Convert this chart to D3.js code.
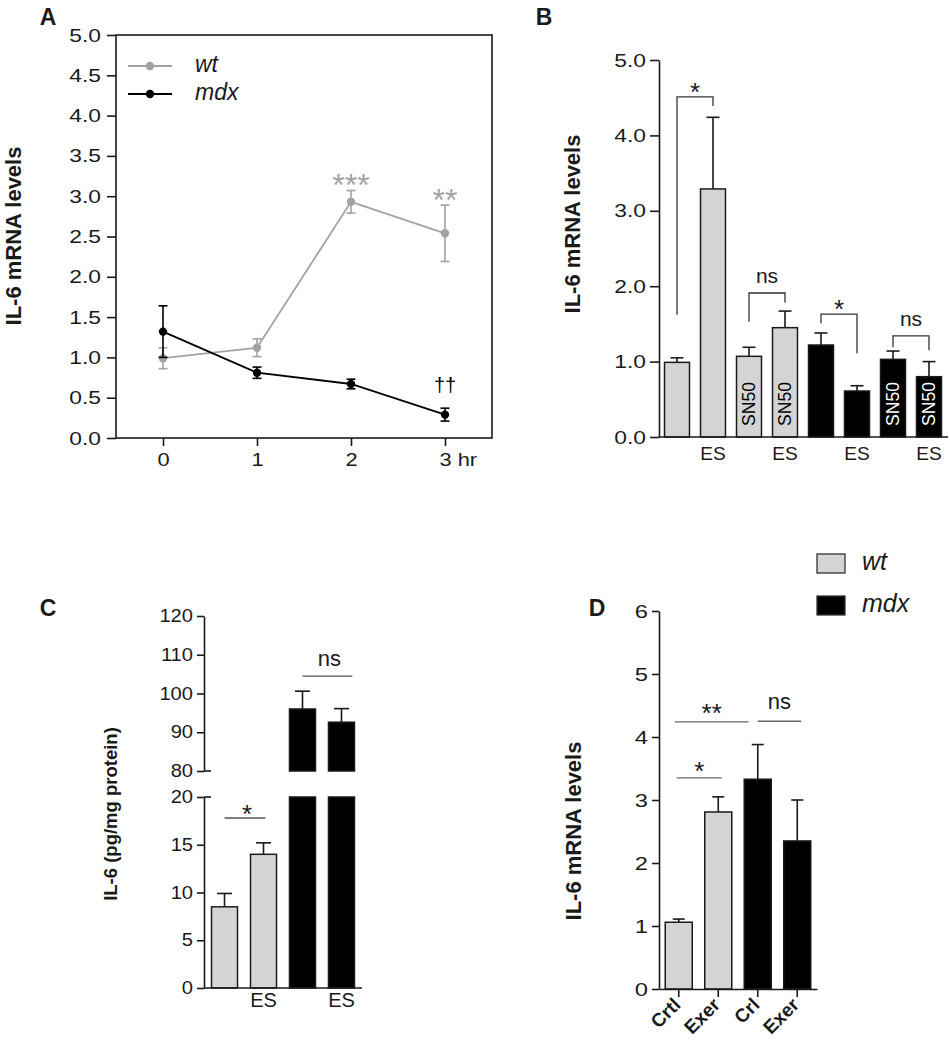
<!DOCTYPE html>
<html><head><meta charset="utf-8">
<script src="https://cdn.jsdelivr.net/npm/d3@7"></script>
<style>body{margin:0;background:#fff} svg{display:block}</style>
</head><body>
<svg id="fig" width="950" height="1050"></svg>
<script>
// ---------- DATA ----------
// Panel A
const aTimes = [0, 1, 2, 3];
const aXTickLabels = ["0", "1", "2", "3 hr"];
const aWt = [0.99, 1.12, 2.93, 2.54];
const aWtErr = [0.13, 0.11, 0.14, 0.35];
const aMdx = [1.32, 0.81, 0.67, 0.29];
const aMdxErr = [0.32, 0.07, 0.06, 0.08];
const aYTicks = [0, 0.5, 1, 1.5, 2, 2.5, 3, 3.5, 4, 4.5, 5];
const aWtMarks = ["", "", "***", "**"];
const aMdxMarks = ["", "", "", "††"];
const aSeriesNames = ["wt", "mdx"];

// Panel B
const bGroups = ["wt", "wt", "wt", "wt", "mdx", "mdx", "mdx", "mdx"];
const bVals = [0.99, 3.29, 1.07, 1.45, 1.22, 0.61, 1.03, 0.80];
const bErr = [0.06, 0.95, 0.12, 0.22, 0.16, 0.07, 0.11, 0.20];
const bXLabels = ["", "ES", "", "ES", "", "ES", "", "ES"];
const bInner = ["", "", "SN50", "SN50", "", "", "SN50", "SN50"];
const bYTicks = [0, 1, 2, 3, 4, 5];
const bBrFrom = [0, 2, 4, 6];
const bBrTo = [1, 3, 5, 7];
const bBrTop = [4.51, 1.91, 1.63, 1.34];
const bBrLeft = [1.62, 1.53, 1.51, 1.19];
const bBrRight = [4.39, 1.78, 1.11, 1.15];
const bBrLabel = ["*", "ns", "*", "ns"];

// Panel C
const cGroups = ["wt", "wt", "mdx", "mdx"];
const cVals = [8.5, 14.0, 96.0, 92.6];
const cErr = [1.4, 1.2, 4.6, 3.5];
const cXLabels = ["", "ES", "", "ES"];
const cLowTicks = [0, 5, 10, 15, 20];
const cHighTicks = [80, 90, 100, 110, 120];
const cSigFrom = [0, 2];
const cSigTo = [1.05, 3.28];
const cSigY = [17.8, 104.5];
const cSigLabel = ["*", "ns"];

// Panel D
const dGroups = ["wt", "wt", "mdx", "mdx"];
const dCats = ["Crtl", "Exer", "Crl", "Exer"];
const dVals = [1.06, 2.81, 3.33, 2.35];
const dErr = [0.05, 0.24, 0.55, 0.65];
const dYTicks = [0, 1, 2, 3, 4, 5, 6];
const dSigFrom = [-0.05, -0.1, 2.0];
const dSigTo = [1.09, 1.77, 3.1];
const dSigY = [3.35, 4.24, 4.25];
const dSigLabel = ["*", "**", "ns"];
const dLegend = ["wt", "mdx"];

// ---------- STYLE ----------
const FONT = '"Liberation Sans", Arial, Helvetica, sans-serif';
const GREY_LINE = "#a2a2a2";
const BAR_FILL = { wt: "#d4d4d4", mdx: "#000000" };
const INK = "#1a1a1a";
const svg = d3.select("#fig");

function stretch(sel, k) {
  sel.each(function () {
    const L = this.getComputedTextLength();
    d3.select(this).attr("textLength", L * k).attr("lengthAdjust", "spacingAndGlyphs");
  });
}
function styleAxis(g, fs, k) {
  g.selectAll("text").attr("font-size", fs).attr("font-family", FONT).attr("fill", INK);
  g.selectAll("line,path").attr("stroke", INK).attr("stroke-width", 1.6);
  if (k) stretch(g.selectAll("text"), k);
}
// place text by its visual center; kind decides glyph vertical center offset
function label(x, yc, s, size, opts = {}) {
  const k = opts.kind || "cap";
  const off = k === "star" ? 0.58 : k === "x" ? 0.26 : k === "dag" ? 0.30 : 0.36;
  const t = svg.append("text")
    .attr("x", x).attr("y", yc + off * size)
    .attr("text-anchor", opts.anchor || "middle")
    .attr("font-family", FONT).attr("font-size", size)
    .attr("font-weight", opts.bold ? "bold" : "normal")
    .attr("font-style", opts.italic ? "italic" : "normal")
    .attr("fill", opts.fill || INK)
    .text(s);
  if (opts.stretch) stretch(t, opts.stretch);
  return t;
}
function vTitle(x, yc, s, size) {
  svg.append("text")
    .attr("transform", `translate(${x},${yc}) rotate(-90)`)
    .attr("text-anchor", "middle").attr("dominant-baseline", "central")
    .attr("font-family", FONT).attr("font-size", size).attr("font-weight", "bold")
    .attr("fill", INK).text(s);
}
function starKind(s) { return s.indexOf("*") >= 0 ? "star" : "x"; }

// ---------- PANEL A ----------
{
  const x = d3.scaleLinear([-0.5, 3.5], [116, 492]);
  const y = d3.scaleLinear([0, 5], [438, 35]);
  const g = svg.append("g");
  g.append("rect").attr("x", x(-0.5)).attr("y", y(5))
    .attr("width", x(3.5) - x(-0.5)).attr("height", y(0) - y(5))
    .attr("fill", "none").attr("stroke", INK).attr("stroke-width", 1.6);
  const ya = g.append("g").attr("transform", `translate(${x(-0.5)},0)`)
    .call(d3.axisLeft(y).tickValues(aYTicks).tickFormat(d3.format(".1f")).tickSize(9).tickPadding(6).tickSizeOuter(0));
  ya.select(".domain").remove();
  styleAxis(ya, 19, 1.2);
  const xa = g.append("g").attr("transform", `translate(0,${y(0)})`)
    .call(d3.axisBottom(x).tickValues(aTimes).tickFormat((d, i) => aXTickLabels[i]).tickSize(8).tickPadding(7).tickSizeOuter(0));
  xa.select(".domain").remove();
  styleAxis(xa, 19, 1.15);
  xa.selectAll(".tick text").filter((d, i) => i === aTimes.length - 1)
    .attr("text-anchor", "start").attr("x", -6);

  const series = [
    { vals: aWt, err: aWtErr, color: GREY_LINE, marks: aWtMarks },
    { vals: aMdx, err: aMdxErr, color: "#000", marks: aMdxMarks }
  ];
  const line = d3.line().x((d, i) => x(aTimes[i])).y(d => y(d));
  series.forEach(s => {
    g.append("path").attr("d", line(s.vals)).attr("fill", "none")
      .attr("stroke", s.color).attr("stroke-width", 1.8);
    s.vals.forEach((v, i) => {
      const cx = x(aTimes[i]);
      g.append("line").attr("x1", cx).attr("x2", cx).attr("y1", y(v - s.err[i])).attr("y2", y(v + s.err[i]))
        .attr("stroke", s.color).attr("stroke-width", 1.6);
      [v - s.err[i], v + s.err[i]].forEach(e => g.append("line").attr("x1", cx - 4.5).attr("x2", cx + 4.5)
        .attr("y1", y(e)).attr("y2", y(e)).attr("stroke", s.color).attr("stroke-width", 1.6));
      g.append("circle").attr("cx", cx).attr("cy", y(v)).attr("r", 4.2).attr("fill", s.color);
    });
  });
  // significance marks
  aWtMarks.forEach((m, i) => {
    if (!m) return;
    label(x(aTimes[i]), y(aWt[i] + aWtErr[i]) - 13, m, 32, { kind: "star", fill: GREY_LINE });
  });
  aMdxMarks.forEach((m, i) => {
    if (!m) return;
    label(x(aTimes[i]), y(aMdx[i] + aMdxErr[i]) - 22, m, 20, { kind: "dag", fill: "#000" });
  });
  // legend
  aSeriesNames.forEach((n, i) => {
    const ly = 66 + i * 28, col = i === 0 ? GREY_LINE : "#000";
    g.append("line").attr("x1", 128).attr("x2", 172).attr("y1", ly).attr("y2", ly).attr("stroke", col).attr("stroke-width", 1.8);
    g.append("circle").attr("cx", 150).attr("cy", ly).attr("r", 4.2).attr("fill", col);
    label(195, ly, n, 23, { kind: "x", italic: true, anchor: "start" });
  });
  vTitle(13, 236, "IL-6 mRNA levels", 22);
  label(48, 17, "A", 23, { bold: true });
}

// ---------- PANEL B ----------
{
  const x = d3.scaleBand(d3.range(bVals.length), [659, 947]).paddingInner(0.306).paddingOuter(0.153);
  const y = d3.scaleLinear([0, 5], [437, 60]);
  const bw = x.bandwidth();
  const cx = i => x(i) + bw / 2;
  const g = svg.append("g");
  bVals.forEach((v, i) => {
    g.append("line").attr("x1", cx(i)).attr("x2", cx(i)).attr("y1", y(v)).attr("y2", y(v + bErr[i]))
      .attr("stroke", INK).attr("stroke-width", 1.6);
    g.append("line").attr("x1", cx(i) - 6.5).attr("x2", cx(i) + 6.5).attr("y1", y(v + bErr[i])).attr("y2", y(v + bErr[i]))
      .attr("stroke", INK).attr("stroke-width", 1.6);
    g.append("rect").attr("x", x(i)).attr("y", y(v)).attr("width", bw).attr("height", y(0) - y(v))
      .attr("fill", BAR_FILL[bGroups[i]]).attr("stroke", INK).attr("stroke-width", 1.5);
    if (bInner[i]) {
      g.append("text").attr("transform", `translate(${cx(i)},404) rotate(-90)`)
        .attr("text-anchor", "middle").attr("dominant-baseline", "central")
        .attr("font-family", FONT).attr("font-size", 18)
        .attr("textLength", 44).attr("lengthAdjust", "spacingAndGlyphs")
        .attr("fill", bGroups[i] === "mdx" ? "#fff" : "#000").text(bInner[i]);
    }
    if (bXLabels[i]) label(cx(i), 453, bXLabels[i], 19);
  });
  const ya = g.append("g").attr("transform", `translate(659,0)`)
    .call(d3.axisLeft(y).tickValues(bYTicks).tickFormat(d3.format(".1f")).tickSize(9).tickPadding(4).tickSizeOuter(0));
  styleAxis(ya, 19, 1.2);
  g.append("line").attr("x1", 659).attr("x2", 948).attr("y1", y(0)).attr("y2", y(0)).attr("stroke", INK).attr("stroke-width", 1.6);
  // brackets
  bBrFrom.forEach((f, k) => {
    const x1 = cx(f), x2 = cx(bBrTo[k]);
    g.append("path").attr("d", `M${x1},${y(bBrLeft[k])}V${y(bBrTop[k])}H${x2}V${y(bBrRight[k])}`)
      .attr("fill", "none").attr("stroke", "#333").attr("stroke-width", 1.3);
    const s = bBrLabel[k];
    label((x1 + x2) / 2, y(bBrTop[k]) - (s === "ns" ? 15 : 11), s, s === "ns" ? 21 : 26, { kind: starKind(s) });
  });
  vTitle(572, 224, "IL-6 mRNA levels", 22);
  label(544, 17, "B", 23, { bold: true });
}

// ---------- PANEL C ----------
{
  const x = d3.scaleBand(d3.range(cVals.length), [205, 361]).paddingInner(0.333).paddingOuter(0.167);
  const yLow = d3.scaleLinear([0, 20], [988, 797]);
  const yHigh = d3.scaleLinear([80, 120], [771, 616]);
  const bw = x.bandwidth();
  const cx = i => x(i) + bw / 2;
  const fx = f => x(0) + bw / 2 + f * x.step();
  const yAny = v => v > 20 ? yHigh(v) : yLow(v);
  const g = svg.append("g");
  cVals.forEach((v, i) => {
    const top = v + cErr[i];
    g.append("line").attr("x1", cx(i)).attr("x2", cx(i)).attr("y1", yAny(v)).attr("y2", yAny(top))
      .attr("stroke", INK).attr("stroke-width", 1.6);
    g.append("line").attr("x1", cx(i) - 7.5).attr("x2", cx(i) + 7.5).attr("y1", yAny(top)).attr("y2", yAny(top))
      .attr("stroke", INK).attr("stroke-width", 1.6);
    const lowTop = Math.min(v, 20);
    g.append("rect").attr("x", x(i)).attr("y", yLow(lowTop)).attr("width", bw).attr("height", yLow(0) - yLow(lowTop))
      .attr("fill", BAR_FILL[cGroups[i]]).attr("stroke", INK).attr("stroke-width", 1.5);
    if (v > 80) {
      g.append("rect").attr("x", x(i)).attr("y", yHigh(v)).attr("width", bw).attr("height", yHigh(80) - yHigh(v))
        .attr("fill", BAR_FILL[cGroups[i]]).attr("stroke", INK).attr("stroke-width", 1.5);
    }
    if (cXLabels[i]) label(cx(i), 1000, cXLabels[i], 20);
  });
  const yl = g.append("g").attr("transform", "translate(204,0)")
    .call(d3.axisLeft(yLow).tickValues(cLowTicks).tickSize(7).tickPadding(4).tickSizeOuter(0));
  styleAxis(yl, 17.5, 1.15);
  const yh = g.append("g").attr("transform", "translate(204,0)")
    .call(d3.axisLeft(yHigh).tickValues(cHighTicks).tickSize(7).tickPadding(4).tickSizeOuter(0));
  styleAxis(yh, 17.5, 1.15);
  // break marks crossing the axis
  [yLow(20), yHigh(80)].forEach(yy => g.append("line").attr("x1", 204).attr("x2", 211).attr("y1", yy).attr("y2", yy)
    .attr("stroke", INK).attr("stroke-width", 1.6));
  g.append("line").attr("x1", 204).attr("x2", 362).attr("y1", yLow(0)).attr("y2", yLow(0)).attr("stroke", INK).attr("stroke-width", 1.6);
  cSigFrom.forEach((f, k) => {
    const yy = yAny(cSigY[k]);
    g.append("line").attr("x1", fx(f)).attr("x2", fx(cSigTo[k])).attr("y1", yy).attr("y2", yy)
      .attr("stroke", "#555").attr("stroke-width", 1.3);
    const s = cSigLabel[k];
    label((fx(f) + fx(cSigTo[k])) / 2 + 2, yy - (s === "ns" ? 16 : 10), s, s === "ns" ? 22 : 26, { kind: starKind(s) });
  });
  vTitle(110, 814, "IL-6 (pg/mg protein)", 18.5);
  label(48, 608, "C", 23, { bold: true });
}

// ---------- PANEL D ----------
{
  const x = d3.scaleBand(d3.range(dVals.length), [659, 817]).paddingInner(0.316).paddingOuter(0.158);
  const y = d3.scaleLinear([0, 6], [989, 611]);
  const bw = x.bandwidth();
  const cx = i => x(i) + bw / 2;
  const fx = f => x(0) + bw / 2 + f * x.step();
  const g = svg.append("g");
  dVals.forEach((v, i) => {
    g.append("line").attr("x1", cx(i)).attr("x2", cx(i)).attr("y1", y(v)).attr("y2", y(v + dErr[i]))
      .attr("stroke", INK).attr("stroke-width", 1.6);
    g.append("line").attr("x1", cx(i) - 6).attr("x2", cx(i) + 6).attr("y1", y(v + dErr[i])).attr("y2", y(v + dErr[i]))
      .attr("stroke", INK).attr("stroke-width", 1.6);
    g.append("rect").attr("x", x(i)).attr("y", y(v)).attr("width", bw).attr("height", y(0) - y(v))
      .attr("fill", BAR_FILL[dGroups[i]]).attr("stroke", INK).attr("stroke-width", 1.5);
  });
  const ya = g.append("g").attr("transform", "translate(659,0)")
    .call(d3.axisLeft(y).tickValues(dYTicks).tickFormat(d3.format("d")).tickSize(7).tickPadding(4).tickSizeOuter(0));
  styleAxis(ya, 19, 1.25);
  const xa = g.append("g").attr("transform", `translate(0,${y(0)})`)
    .call(d3.axisBottom(x).tickFormat((d, i) => dCats[i]).tickSize(8).tickSizeOuter(0));
  styleAxis(xa, 19);
  xa.selectAll(".tick text").attr("y", null).attr("dy", null)
    .attr("transform", "translate(3,17) rotate(-45)").attr("text-anchor", "end").attr("font-weight", "bold");
  dSigFrom.forEach((f, k) => {
    const yy = y(dSigY[k]);
    g.append("line").attr("x1", fx(f)).attr("x2", fx(dSigTo[k])).attr("y1", yy).attr("y2", yy)
      .attr("stroke", "#666").attr("stroke-width", 1.3);
    const s = dSigLabel[k];
    label((fx(f) + fx(dSigTo[k])) / 2, yy - (s === "ns" ? 18 : s === "**" ? 15 : 13), s, s === "ns" ? 22 : 26, { kind: starKind(s) });
  });
  // legend
  dLegend.forEach((n, i) => {
    const ty = 554 + i * 42;
    g.append("rect").attr("x", 817).attr("y", ty).attr("width", 28).attr("height", 19)
      .attr("fill", BAR_FILL[n]).attr("stroke", "#333").attr("stroke-width", 1.3);
    label(862, ty + 9.5, n, 25, { kind: "x", italic: true, anchor: "start" });
  });
  vTitle(573, 831, "IL-6 mRNA levels", 22);
  label(597, 608, "D", 23, { bold: true });
}
</script>
</body></html>
